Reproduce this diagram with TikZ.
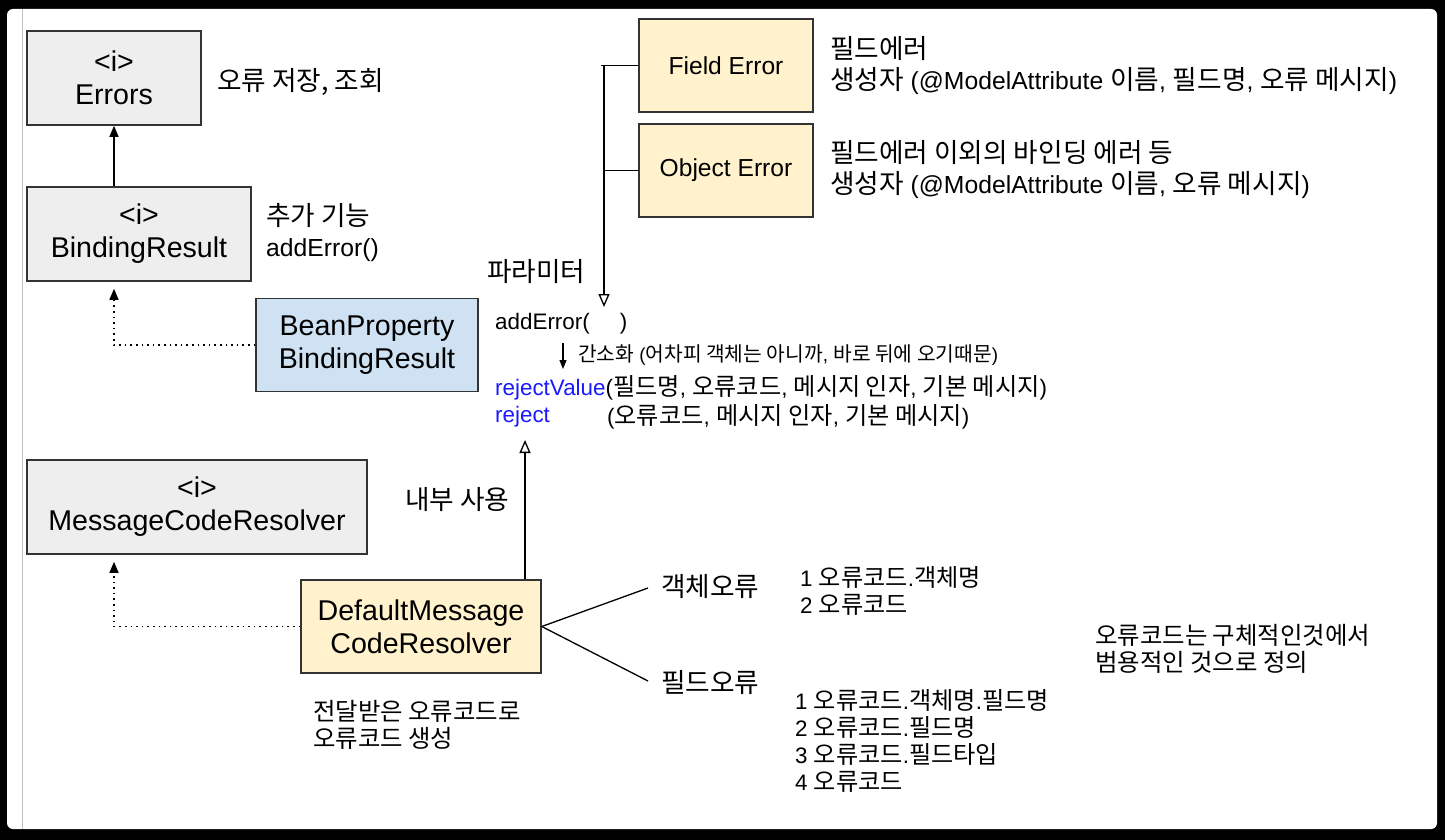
\documentclass[tikz,border=0pt]{standalone}
\usepackage{fontspec}
\setmainfont{Liberation Sans}
\newfontfamily\kr[Scale=1.08]{Noto Sans CJK KR}
\newcommand\K[1]{{\kr #1}}
\usetikzlibrary{arrows.meta}
\definecolor{gfill}{HTML}{EEEEEE}
\definecolor{bfill}{HTML}{CFE2F3}
\definecolor{yfill}{HTML}{FFF2CC}
\definecolor{bord}{HTML}{333333}
\definecolor{kwblue}{HTML}{1A1AFF}
\begin{document}
\begin{tikzpicture}[x=1pt,y=-1pt,
  box/.style={draw=bord, line width=1.6pt, inner sep=0, align=center,
    font=\fontsize{28.6}{33}\selectfont},
  gbox/.style={box, fill=gfill},
  bbox/.style={box, fill=bfill},
  ybox/.style={box, fill=yfill},
  note/.style={inner sep=0, anchor=west, align=left, font=\fontsize{24.7}{31}\selectfont},
  code/.style={inner sep=0, anchor=west, align=left, font=\fontsize{22.4}{29}\selectfont},
  small/.style={inner sep=0, anchor=west, align=left, font=\fontsize{18.8}{20}\selectfont},
  solidarr/.style={line width=1.3pt, -{Triangle[length=11pt,width=9pt]}},
  openarr/.style={line width=1.3pt, -{Triangle[open,length=13pt,width=11pt]}},
  dotarr/.style={line width=1.5pt, dash pattern=on 1.6pt off 4pt, -{Triangle[length=11pt,width=9pt]}, shorten >=7pt},
  plain/.style={line width=1.3pt}
]
\useasboundingbox (0,0) rectangle (1445,840);
\fill[black] (0,0) rectangle (1445,840);
\fill[white, rounded corners=6pt] (7,9) rectangle (1437,829);
\draw[black!25, line width=0.8pt] (22,9) -- (22,829);

% boxes
\node[gbox, minimum width=174pt, minimum height=94pt] (err) at (114,78) {<i>\\Errors};
\node[gbox, minimum width=224pt, minimum height=94pt] (br) at (139,234) {<i>\\BindingResult};
\node[bbox, minimum width=222pt, minimum height=93pt] (bp) at (367,345) {BeanProperty\\BindingResult};
\node[gbox, minimum width=340pt, minimum height=94pt] (mcr) at (197,507) {<i>\\MessageCodeResolver};
\node[ybox, minimum width=240pt, minimum height=93pt] (dm) at (421,626.5) {DefaultMessage\\CodeResolver};
\node[ybox, minimum width=174pt, minimum height=93pt, font=\fontsize{24.6}{28}\selectfont] (fe) at (726,65.5) {Field Error};
\node[ybox, minimum width=174pt, minimum height=93pt, font=\fontsize{24.6}{28}\selectfont] (oe) at (726,170.5) {Object Error};

% annotations
\node[note] (t1) at (217,82) {\K{오류 저장, 조회}};
\node[note] (t2) at (266,233) {\K{추가 기능}\\addError()};
\node[note] (t3) at (487,272) {\K{파라미터}};
\node[note] (t4) at (830,66) {\K{필드에러}\\\K{생성자} (@ModelAttribute \K{이름}, \K{필드명}, \K{오류 메시지})};
\node[note] (t5) at (830,170) {\K{필드에러 이외의 바인딩 에러 등}\\\K{생성자} (@ModelAttribute \K{이름}, \K{오류 메시지})};
\node[code] (ae) at (495,324) {addError(\hspace{30pt})};
\node[small] (simp) at (578,355) {\K{간소화} (\K{어차피 객체는 아니까}, \K{바로 뒤에 오기때문})};
\node[code] (rv) at (495,388) {\textcolor{kwblue}{rejectValue}(\K{필드명}, \K{오류코드}, \K{메시지 인자}, \K{기본 메시지})};
\node[code] (rj) at (495,417) {\textcolor{kwblue}{reject}};
\node[code] (rjargs) at (607,417) {(\K{오류코드}, \K{메시지 인자}, \K{기본 메시지})};
\node[note] (inner) at (405,500) {\K{내부 사용}};
\node[note] (obj) at (661,587) {\K{객체오류}};
\node[note] (fld) at (661,683) {\K{필드오류}};
\node[code, font=\fontsize{22.4}{26.5}\selectfont] (objl) at (800,591) {1 \K{오류코드}.\K{객체명}\\2 \K{오류코드}};
\node[code, font=\fontsize{22.4}{27}\selectfont] (fldl) at (795,741) {1 \K{오류코드}.\K{객체명}.\K{필드명}\\2 \K{오류코드}.\K{필드명}\\3 \K{오류코드}.\K{필드타입}\\4 \K{오류코드}};
\node[note, font=\fontsize{22.6}{27}\selectfont] (gen) at (1095,649) {\K{오류코드는 구체적인것에서}\\\K{범용적인 것으로 정의}};
\node[note, font=\fontsize{22.6}{27}\selectfont] (pass) at (313,725) {\K{전달받은 오류코드로}\\\K{오류코드 생성}};

% connectors
\draw[solidarr] (err.south |- br.north) -- (err.south);
\draw[dotarr] (bp.west) -| (err.south |- br.south);
\draw[dotarr] (dm.west) -| (err.south |- mcr.south);

\coordinate (bt) at (601,65.5);
\coordinate (bb) at (604,307);
\draw[plain] (bt) -- (fe.west);
\draw[plain] (oe.west) -- (oe.west -| bb);
\draw[openarr] (bb |- fe.west) -- (bb);

\coordinate (s1) at (563,343);
\coordinate (s2) at (563,369);
\draw[line width=1.2pt, -{Triangle[length=9pt,width=7pt]}] (s1) -- (s2);

\coordinate (rt) at (525,440);
\draw[openarr] (dm.north -| rt) -- (rt);

\coordinate (dmr) at (dm.east);
\coordinate (o1) at (648,588);
\coordinate (f1) at (648,681);
\draw[plain] (dmr) -- (o1);
\draw[plain] (dmr) -- (f1);
\end{tikzpicture}
\end{document}
